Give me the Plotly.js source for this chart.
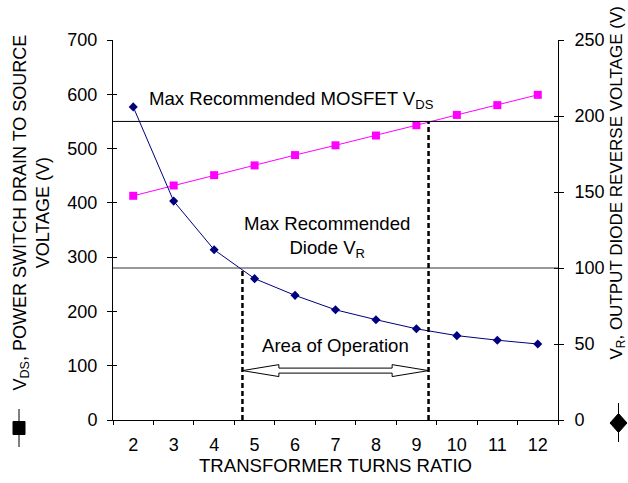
<!DOCTYPE html>
<html>
<head>
<meta charset="utf-8">
<script src="https://cdn.plot.ly/plotly-3.0.1.min.js"></script>
<style>html,body{margin:0;padding:0;background:#fff;}#chart{width:628px;height:483px;}</style>
</head>
<body>
<div id="chart"></div>
<script>
// ---- data ----
const turnsRatio = [2, 3, 4, 5, 6, 7, 8, 9, 10, 11, 12];
const vdsVolts = [413, 432, 451, 469, 488, 506, 524, 543, 562, 580, 599];
const vrVolts = [206, 144, 112, 93, 82, 72.5, 66, 60, 55.5, 52.5, 50];
const xTickText = ["2", "3", "4", "5", "6", "7", "8", "9", "10", "11", "12"];
const leftTicks = [0, 100, 200, 300, 400, 500, 600, 700];
const rightTicks = [0, 50, 100, 150, 200, 250];
const mosfetMaxVds = 550;      // left axis
const diodeMaxVr = 100;        // right axis
const opLow = 4.7;             // turns ratio
const opHigh = 9.3;            // turns ratio
const arrowLevel = 91;         // left axis

// ---- styles ----
const FONT = "Liberation Sans, Arial, sans-serif";
const FS = 18;
const FA = 18.6;
const catBounds = turnsRatio.map(t => t - 0.5).concat([turnsRatio[turnsRatio.length - 1] + 0.5]);
const xRange = [catBounds[0], catBounds[catBounds.length - 1]];

const traces = [
  {x: turnsRatio, y: vdsVolts, yaxis: 'y', mode: 'lines+markers', name: 'VDS',
   line: {color: '#FF00FF', width: 1}, marker: {symbol: 'square', size: 8, color: '#FF00FF'}},
  {x: turnsRatio, y: vrVolts, yaxis: 'y2', mode: 'lines+markers', name: 'VR',
   line: {color: '#000080', width: 1}, marker: {symbol: 'diamond', size: 7, color: '#000080'}},
  {x: [], y: [], xaxis: 'x2', yaxis: 'y', showlegend: false, hoverinfo: 'skip'},
  {x: [], y: [], xaxis: 'x', yaxis: 'y3', showlegend: false, hoverinfo: 'skip'},
  {x: [], y: [], xaxis: 'x', yaxis: 'y4', showlegend: false, hoverinfo: 'skip'}
];

// arrow geometry (head length in x units, heights in left-axis volts)
const hl = 0.9, hh = 11, sh = 4.6;
const a = opLow, b = opHigh, c = arrowLevel;
const arrowPath = `M ${a},${c} L ${a+hl},${c+hh} L ${a+hl},${c+sh} L ${b-hl},${c+sh} L ${b-hl},${c+hh} L ${b},${c} L ${b-hl},${c-hh} L ${b-hl},${c-sh} L ${a+hl},${c-sh} L ${a+hl},${c-hh} Z`;

const px = v => (v - 113) / 445;      // pixel -> paper x
const py = v => (420 - v) / 380;      // pixel -> paper y

const layout = {
  width: 628, height: 483,
  margin: {l: 113, r: 70, t: 40, b: 63},
  paper_bgcolor: '#fff', plot_bgcolor: '#fff',
  showlegend: false,
  font: {family: FONT, size: FS, color: '#000'},
  xaxis: {
    range: xRange, tickmode: 'array', tickvals: turnsRatio, ticktext: xTickText,
    ticks: '', showgrid: false, zeroline: false, showline: true, linecolor: '#000', linewidth: 1,
    ticklabelstandoff: 8,
    title: {text: 'TRANSFORMER TURNS RATIO', font: {size: FA}, standoff: 4}
  },
  xaxis2: {
    overlaying: 'x', anchor: 'y', range: xRange, tickmode: 'array', tickvals: catBounds,
    ticks: 'outside', ticklen: 4, tickcolor: '#000', tickwidth: 1, showticklabels: false,
    showgrid: false, zeroline: false, showline: false
  },
  yaxis: {
    range: [0, 700], tickmode: 'array', tickvals: leftTicks, ticks: 'outside', ticklen: 5,
    tickcolor: '#000', showgrid: false, zeroline: false, showline: true, linecolor: '#000',
    ticklabelstandoff: 6
  },
  yaxis2: {
    overlaying: 'y', side: 'right', anchor: 'x', range: [0, 250], tickmode: 'array', tickvals: rightTicks,
    ticks: 'outside', ticklen: 5, tickcolor: '#000', showgrid: false, zeroline: false,
    showline: true, linecolor: '#000', ticklabelstandoff: 7
  },
  yaxis3: {
    overlaying: 'y', side: 'left', anchor: 'x', range: [0, 700], tickmode: 'array', tickvals: leftTicks,
    ticks: 'inside', ticklen: 4, tickcolor: '#000', showticklabels: false, showgrid: false, zeroline: false, showline: false
  },
  yaxis4: {
    overlaying: 'y', side: 'right', anchor: 'x', range: [0, 250], tickmode: 'array', tickvals: rightTicks,
    ticks: 'inside', ticklen: 4, tickcolor: '#000', showticklabels: false, showgrid: false, zeroline: false, showline: false
  },
  shapes: [
    {type: 'line', xref: 'paper', yref: 'y', x0: 0, x1: 1, y0: mosfetMaxVds, y1: mosfetMaxVds, line: {color: '#000', width: 1}},
    {type: 'line', xref: 'paper', yref: 'y2', x0: 0, x1: 1, y0: diodeMaxVr, y1: diodeMaxVr, line: {color: '#333', width: 1}},
    {type: 'line', xref: 'x', yref: 'y2', x0: opLow, x1: opLow, y0: 0, y1: diodeMaxVr, line: {color: '#000', width: 2.5, dash: '5px,3px'}},
    {type: 'line', xref: 'x', yref: 'y', x0: opHigh, x1: opHigh, y0: 0, y1: mosfetMaxVds, line: {color: '#000', width: 2.5, dash: '5px,3px'}},
    {type: 'path', xref: 'x', yref: 'y', path: arrowPath, fillcolor: '#fff', line: {color: '#000', width: 1}},
    // legend keys beside the axis titles
    {type: 'line', xref: 'paper', yref: 'paper', x0: px(19), x1: px(19), y0: py(409), y1: py(447), line: {color: '#000', width: 1}},
    {type: 'rect', xref: 'paper', yref: 'paper', xsizemode: 'pixel', ysizemode: 'pixel', xanchor: px(19), yanchor: py(428),
     x0: -6, x1: 6, y0: -6.5, y1: 6.5, fillcolor: '#000', line: {color: '#000', width: 1}},
    {type: 'line', xref: 'paper', yref: 'paper', x0: px(618.5), x1: px(618.5), y0: py(403), y1: py(442), line: {color: '#000', width: 1}},
    {type: 'path', xref: 'paper', yref: 'paper', xsizemode: 'pixel', ysizemode: 'pixel', xanchor: px(618.5), yanchor: py(423),
     path: 'M -8.5,0 L 0,9.5 L 8.5,0 L 0,-9.5 Z', fillcolor: '#000', line: {color: '#000', width: 1}}
  ],
  annotations: [
    {xref: 'paper', yref: 'paper', x: px(31), y: py(212.5), xanchor: 'center', yanchor: 'middle', textangle: -90,
     showarrow: false, text: 'V<sub>DS</sub>, POWER SWITCH DRAIN TO SOURCE<br>VOLTAGE (V)', font: {size: FS}},
    {xref: 'paper', yref: 'paper', x: px(617.5), y: py(183), xanchor: 'center', yanchor: 'middle', textangle: -90,
     showarrow: false, text: 'V<sub>R</sub>, OUTPUT DIODE REVERSE VOLTAGE (V)', font: {size: 17}},
    {xref: 'x', yref: 'y', x: 2.33, y: 589, xanchor: 'left', yanchor: 'middle', showarrow: false,
     text: 'Max Recommended MOSFET V<sub>DS</sub>', font: {size: FA}},
    {xref: 'x', yref: 'y', x: 6.78, y: 337, xanchor: 'center', yanchor: 'middle', showarrow: false,
     text: 'Max Recommended<br>Diode V<sub>R</sub>', font: {size: FA}},
    {xref: 'x', yref: 'y', x: 7.0, y: 137, xanchor: 'center', yanchor: 'middle', showarrow: false,
     text: 'Area of Operation', font: {size: FA}}
  ]
};

Plotly.newPlot('chart', traces, layout, {displayModeBar: false, staticPlot: true});
</script>
</body>
</html>
